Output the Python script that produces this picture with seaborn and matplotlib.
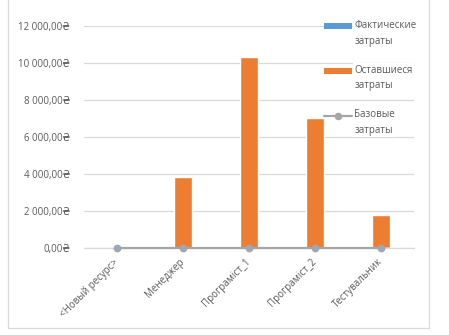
import matplotlib
matplotlib.use("Agg")
import matplotlib.pyplot as plt
import matplotlib.ticker as mticker
from matplotlib.patches import Rectangle, Patch
from matplotlib.lines import Line2D
from matplotlib.legend_handler import HandlerPatch, HandlerLine2D
import numpy as np
import pandas as pd
import seaborn as sns

# Resource cost data
resources = ["<Новый ресурс>", "Менеджер", "Програміст_1", "Програміст_2", "Тестувальник"]
actual_cost = [0, 0, 0, 0, 0]
remaining_cost = [0, 3850, 10340, 7040, 1790]
baseline_cost = [0, 0, 0, 0, 0]
y_ticks = [0, 2000, 4000, 6000, 8000, 10000, 12000]

legend_labels = ["Фактические\nзатраты", "Оставшиеся\nзатраты", "Базовые\nзатраты"]

BLUE = "#5B9BD5"
ORANGE = "#ED7D31"
GRAY = "#A5A5A5"
TEXT = "#595959"
GRID = "#D9D9D9"

sns.set_theme(style="white")
plt.rcParams["font.family"] = ["Open Sans", "DejaVu Sans"]
plt.rcParams["font.size"] = 7

df = pd.DataFrame({
    "resource": resources,
    "actual": actual_cost,
    "remaining": remaining_cost,
    "baseline": baseline_cost,
})
df["total"] = df["actual"] + df["remaining"]

fig = plt.figure(figsize=(4.49, 3.35), dpi=100)
ax = fig.add_axes([84 / 449, 1 - 248 / 335, 330 / 449, 222 / 335])

# Stacked columns: remaining on top of actual
sns.barplot(data=df, x="resource", y="total", color=ORANGE, saturation=1,
            width=0.27, ax=ax, errorbar=None, zorder=2)
sns.barplot(data=df, x="resource", y="actual", color=BLUE, saturation=1,
            width=0.27, ax=ax, errorbar=None, zorder=3)

# Baseline cost line
sns.pointplot(data=df, x="resource", y="baseline", color=GRAY, markers="o",
              linestyles="-", errorbar=None, ax=ax, markersize=4.4,
              linewidth=1.6, zorder=4)
for art in ax.lines + ax.collections:
    art.set_clip_on(False)
for ln in ax.lines:
    ln.set_markerfacecolor("#9EA7B3")
    ln.set_markeredgecolor("#9EA7B3")

ax.set_xlim(-0.5, len(resources) - 0.5)
ax.set_ylim(0, 12000)
ax.set_yticks(y_ticks)
ax.yaxis.set_major_formatter(mticker.FuncFormatter(
    lambda v, p: f"{v:,.2f}".replace(",", " ").replace(".", ",") + "₴"))
ax.grid(axis="y", color=GRID, linewidth=0.9, zorder=0)
ax.set_axisbelow(True)
for s in ["top", "right", "left"]:
    ax.spines[s].set_visible(False)
ax.spines["bottom"].set_color(GRID)
ax.spines["bottom"].set_linewidth(0.9)
ax.set_xlabel("")
ax.set_ylabel("")
ax.tick_params(axis="both", length=0, colors=TEXT, labelsize=7)
ax.tick_params(axis="y", pad=10)
ax.tick_params(axis="x", pad=9)
for lbl in ax.get_xticklabels():
    lbl.set_rotation(45)
    lbl.set_ha("right")
    lbl.set_va("center")
    lbl.set_rotation_mode("anchor")

# Legend handles sit level with the first line of each two-line label
SHIFT = 5.5


class TopPatch(HandlerPatch):
    def create_artists(self, legend, orig_handle, xdescent, ydescent,
                       width, height, fontsize, trans):
        arts = super().create_artists(legend, orig_handle, xdescent, ydescent,
                                      width, height, fontsize, trans)
        for a in arts:
            x, y = a.get_xy()
            a.set_xy((x, y + SHIFT))
        return arts


class TopLine(HandlerLine2D):
    def create_artists(self, legend, orig_handle, xdescent, ydescent,
                       width, height, fontsize, trans):
        arts = super().create_artists(legend, orig_handle, xdescent, ydescent,
                                      width, height, fontsize, trans)
        for a in arts:
            a.set_ydata(np.asarray(a.get_ydata()) + SHIFT)
        return arts


handles = [
    Patch(facecolor=BLUE, edgecolor="none"),
    Patch(facecolor=ORANGE, edgecolor="none"),
    Line2D([0], [0], color=GRAY, linewidth=1.6, marker="o", markersize=4.4),
]
leg = fig.legend(handles, legend_labels, loc="upper left",
                 bbox_to_anchor=(315 / 449, 1 - 11 / 335), frameon=False,
                 handlelength=2.95, handleheight=0.6, handletextpad=0.2,
                 labelspacing=1.85, fontsize=7,
                 handler_map={Patch: TopPatch(), Line2D: TopLine()})
for t in leg.get_texts():
    t.set_color(TEXT)
    t.set_linespacing(1.6)
    t.set_bbox(dict(facecolor="white", edgecolor="none", pad=1))

# Chart area border
fig.patches.append(Rectangle((8 / 449, 1 - 328 / 335), 421 / 449, 335 / 335,
                             transform=fig.transFigure, fill=False,
                             edgecolor=GRID, linewidth=0.9))

fig.savefig("out.png", dpi=100, facecolor="white")
